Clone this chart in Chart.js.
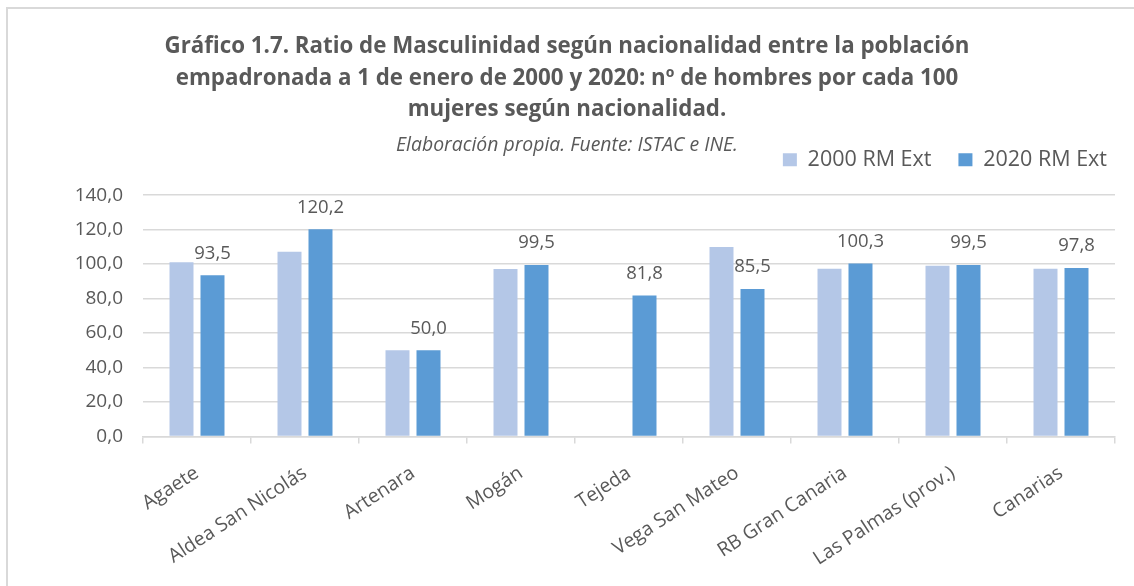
<!DOCTYPE html>
<html>
<head>
<meta charset="utf-8">
<script src="https://cdn.jsdelivr.net/npm/chart.js@4.4.1/dist/chart.umd.min.js"></script>
<style>
html,body{margin:0;padding:0;background:#fff;}
#wrap{position:relative;width:1134px;height:586px;}
#frame{position:absolute;left:6px;top:7px;right:0;bottom:0;border-top:2px solid #d9d9d9;border-left:2px solid #d9d9d9;pointer-events:none;}
</style>
</head>
<body>
<div id="wrap"><canvas id="c"></canvas><div id="frame"></div></div>
<script>
const categories = ['Agaete','Aldea San Nicolás','Artenara','Mogán','Tejeda','Vega San Mateo','RB Gran Canaria','Las Palmas (prov.)','Canarias'];
const values2000 = [101.0, 107.1, 50.0, 97.2, null, 109.9, 97.3, 99.1, 97.3];
const values2020 = [93.5, 120.2, 50.0, 99.5, 81.8, 85.5, 100.3, 99.5, 97.8];
const seriesNames = ['2000 RM Ext', '2020 RM Ext'];
const yTicks = {min: 0, max: 140, step: 20};
const titleLines = ['Gráfico 1.7. Ratio de Masculinidad según nacionalidad entre la población', 'empadronada a 1 de enero de 2000 y 2020: nº de hombres por cada 100', 'mujeres según nacionalidad.'];
const subtitleText = 'Elaboración propia. Fuente: ISTAC e INE.';

const TXT = '#595959';
const FONT = '"Open Sans"';
const fmt = v => v.toFixed(1).replace('.', ',');

const LEGEND_BOX_H = 39.8;
const LEGEND_SHIFT = 33.45;
const legendPlace = {
  id: 'legendPlace',
  beforeInit(chart) {
    const lg = chart.legend;
    const origFit = lg.fit;
    lg.fit = function() { origFit.call(this); this.height = LEGEND_BOX_H; };
  },
  afterLayout(chart) { chart.legend.top -= LEGEND_SHIFT; }
};

const valueLabels = {
  id: 'valueLabels',
  afterDatasetsDraw(chart) {
    const ctx = chart.ctx;
    const meta = chart.getDatasetMeta(1);
    ctx.save();
    ctx.font = '18.5px ' + FONT;
    ctx.fillStyle = TXT;
    ctx.textAlign = 'center';
    ctx.textBaseline = 'middle';
    meta.data.forEach((bar, i) => {
      const v = values2020[i];
      if (v == null) return;
      ctx.fillText(fmt(v), bar.x, bar.y - 22);
    });
    ctx.restore();
  }
};

new Chart(document.getElementById('c'), {
  type: 'bar',
  data: {
    labels: categories,
    datasets: [
      {label: seriesNames[0], data: values2000, backgroundColor: '#b4c7e7', categoryPercentage: 0.574, barPercentage: 0.774},
      {label: seriesNames[1], data: values2020, backgroundColor: '#5b9bd5', categoryPercentage: 0.574, barPercentage: 0.774}
    ]
  },
  options: {
    responsive: true,
    maintainAspectRatio: false,
    animation: false,
    layout: {padding: {left: 0, right: 0, top: 0, bottom: 0}},
    plugins: {
      title: {display: true, text: titleLines, color: TXT, font: {family: FONT, size: 22.3, weight: 'bold', lineHeight: 1.41}, padding: {top: 31.25, bottom: 10.35}},
      subtitle: {display: true, text: subtitleText, color: TXT, font: {family: FONT, size: 19.4, style: 'italic', lineHeight: 1}, padding: 0},
      legend: {display: true, position: 'top', align: 'end',
        labels: {color: TXT, font: {family: FONT, size: 21.5}, boxWidth: 14, boxHeight: 13, padding: 27}},
      tooltip: {enabled: false}
    },
    scales: {
      x: {
        grid: {display: true, drawOnChartArea: false, drawTicks: true, tickLength: 7, color: '#d9d9d9', lineWidth: 1.5},
        border: {display: true, color: '#d9d9d9', width: 1.5},
        ticks: {color: TXT, font: {family: FONT, size: 19.5}, minRotation: 33, maxRotation: 33, padding: 18, autoSkip: false},
        afterFit(s) { s.height = 149.5; }
      },
      y: {
        min: yTicks.min, max: yTicks.max,
        grid: {color: '#d9d9d9', lineWidth: 1.5, drawTicks: false},
        border: {display: false},
        ticks: {stepSize: yTicks.step, color: TXT, font: {family: FONT, size: 19}, padding: 20, callback: v => fmt(v)},
        afterFit(s) { s.width = 143; }
      },
      y2: {
        position: 'right', display: true,
        grid: {display: false, drawTicks: false}, border: {display: false},
        ticks: {display: false},
        afterFit(s) { s.width = 19; }
      }
    }
  },
  plugins: [legendPlace, valueLabels]
});
</script>
</body>
</html>
